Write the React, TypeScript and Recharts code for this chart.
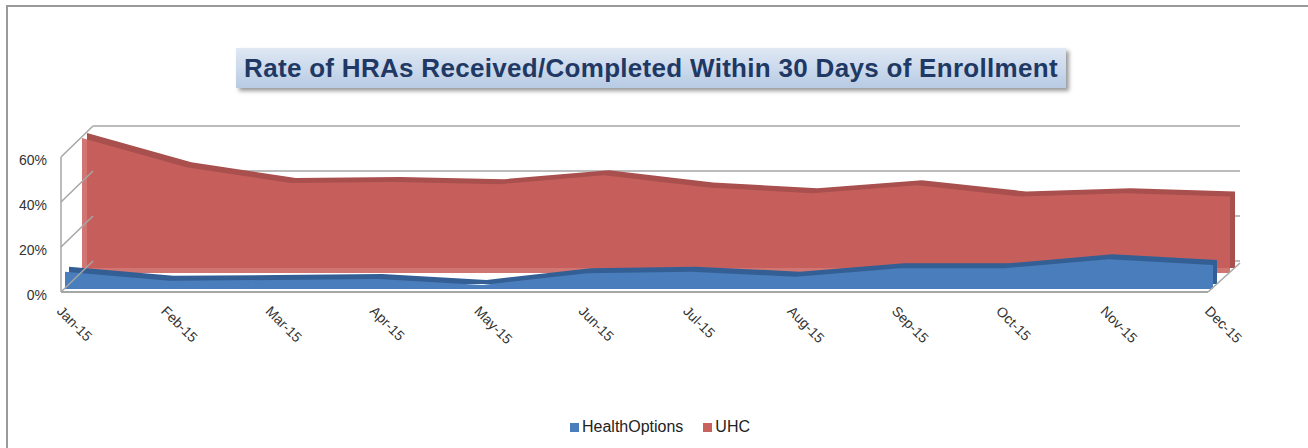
import { AreaChart, Area, XAxis, YAxis, ReferenceLine, Legend } from "recharts";

const months = ["Jan-15", "Feb-15", "Mar-15", "Apr-15", "May-15", "Jun-15", "Jul-15", "Aug-15", "Sep-15", "Oct-15", "Nov-15", "Dec-15"];
const healthOptions = [7.7, 3.7, 4, 4.4, 1.8, 7, 7.7, 5.5, 9.2, 9.2, 13.2, 10.7];
const uhc = [60, 47, 40, 40.5, 39.5, 43.5, 38, 35.5, 39, 34, 35.5, 34];
const yTicks = [0, 20, 40, 60];
const seriesNames = ["HealthOptions", "UHC"];
const title = "Rate of HRAs Received/Completed Within 30 Days of Enrollment";

const data = months.map((m, i) => ({ month: m, healthOptions: healthOptions[i], uhc: uhc[i] }));

// fake 3d: every depth layer is the same scale shifted up by some pixels
const PX_PER_PCT = 2.25;
const Y_MAX = 80;
const lift = (px: number): [number, number] => [-px / PX_PER_PCT, Y_MAX - px / PX_PER_PCT];

const PLOT_LEFT = 61;
const PLOT_BOTTOM = 292;

const font = "'Liberation Sans', Arial, sans-serif";

function FrontYTick({ y, payload }: any) {
  const x = PLOT_LEFT;
  return (
    <g>
      <line x1={x} y1={y} x2={x + 32} y2={y - 31} stroke="#a6a6a6" strokeWidth={1.5} />
      <text x={x - 14} y={y + 3} textAnchor="end" dominantBaseline="central" fontSize={14} fill="#333" fontFamily={font}>
        {payload.value}%
      </text>
    </g>
  );
}

function MonthTick({ x, payload, index }: any) {
  const y = PLOT_BOTTOM;
  const last = index === months.length - 1;
  return (
    <g>
      {last && <line x1={x - 5} y1={y} x2={x + 27} y2={y - 29} stroke="#a6a6a6" strokeWidth={1.5} />}
      <text
        x={x - 9}
        y={y + 20}
        transform={`rotate(45 ${x - 9} ${y + 20})`}
        fontSize={14}
        fill="#333"
        fontFamily={font}
      >
        {payload.value}
      </text>
    </g>
  );
}

export default function App() {
  return (
    <div style={{ position: "absolute", left: 0, top: 0, width: 1308, height: 448, background: "#fff", overflow: "hidden", fontFamily: font }}>
      <div style={{ position: "absolute", left: 6, top: 5, right: -10, bottom: -10, borderTop: "2px solid #9a9a9a", borderLeft: "2px solid #9a9a9a" }} />
      <div
        style={{
          position: "absolute",
          left: 236,
          top: 48,
          width: 830,
          height: 40,
          background: "linear-gradient(#dfe8f4, #b7cbe4)",
          boxShadow: "3px 3px 4px rgba(0,0,0,0.4)",
          color: "#1f3864",
          fontWeight: "bold",
          fontSize: 26,
          lineHeight: "40px",
          textAlign: "center",
          letterSpacing: 0.3,
          whiteSpace: "nowrap",
        }}
      >
        {title}
      </div>
      <AreaChart width={1308} height={448} data={data} margin={{ top: 112, right: 68, left: 0, bottom: 116 }}>
        <XAxis xAxisId="front" dataKey="month" scale="point" padding={{ left: 4, right: 27 }} height={40} axisLine={false} tickLine={false} tickSize={0} tickMargin={0} interval={0} tick={<MonthTick />} />
        <XAxis xAxisId="red" dataKey="month" scale="point" padding={{ left: 21, right: 10 }} hide />
        <XAxis xAxisId="redTop" dataKey="month" scale="point" padding={{ left: 26, right: 5 }} hide />
        <XAxis xAxisId="blueTop" dataKey="month" scale="point" padding={{ left: 8, right: 23 }} hide />
        <XAxis xAxisId="wall" dataKey="month" scale="point" padding={{ left: 0, right: 32 }} hide />
        <XAxis xAxisId="back" dataKey="month" scale="point" padding={{ left: 32, right: 0 }} hide />

        <YAxis yAxisId="front" type="number" domain={[0, Y_MAX]} ticks={yTicks} width={61} axisLine={false} tickLine={false} tickSize={0} tickMargin={0} tick={<FrontYTick />} allowDataOverflow />
        <YAxis yAxisId="red" type="number" domain={lift(19)} allowDataOverflow hide />
        <YAxis yAxisId="redTop" type="number" domain={lift(24)} allowDataOverflow hide />
        <YAxis yAxisId="blue" type="number" domain={lift(3)} allowDataOverflow hide />
        <YAxis yAxisId="blueTop" type="number" domain={lift(8)} allowDataOverflow hide />
        <YAxis yAxisId="back" type="number" domain={lift(31)} allowDataOverflow hide />

        {/* back wall gridlines, kept behind the areas */}
        {yTicks.map((t) => (
          <ReferenceLine
            key={t}
            xAxisId="back"
            yAxisId="back"
            segment={[{ x: months[0], y: t }, { x: months[months.length - 1], y: t }]}
            stroke="#a6a6a6"
            strokeWidth={1.5}
            ifOverflow="visible"
            zIndex={-100}
          />
        ))}

        <Area xAxisId="redTop" yAxisId="redTop" dataKey="uhc" type="linear" fill="#a94f4d" fillOpacity={1} stroke="none" legendType="none" isAnimationActive={false} />
        <Area xAxisId="red" yAxisId="red" dataKey="uhc" name={seriesNames[1]} type="linear" fill="#c9625f" fillOpacity={0.88} stroke="none" legendType="square" isAnimationActive={false} />
        <Area xAxisId="blueTop" yAxisId="blueTop" dataKey="healthOptions" type="linear" fill="#335f94" fillOpacity={1} stroke="none" legendType="none" isAnimationActive={false} />
        <Area xAxisId="front" yAxisId="blue" dataKey="healthOptions" name={seriesNames[0]} type="linear" fill="#4a7dbb" fillOpacity={1} stroke="none" legendType="square" isAnimationActive={false} />

        <ReferenceLine xAxisId="wall" yAxisId="front" segment={[{ x: months[0], y: 0 }, { x: months[0], y: 60 }]} stroke="#a6a6a6" strokeWidth={1.5} ifOverflow="visible" />
        <ReferenceLine xAxisId="wall" yAxisId="front" segment={[{ x: months[0], y: 0 }, { x: months[months.length - 1], y: 0 }]} stroke="#a6a6a6" strokeWidth={2} ifOverflow="visible" />

        <Legend
          verticalAlign="middle"
          align="center"
          iconSize={9}
          wrapperStyle={{ top: 418, left: 16, width: 1308 }}
          formatter={(v: string) => <span style={{ color: "#222", fontSize: 16, fontFamily: font, marginLeft: -1, marginRight: 10 }}>{v}</span>}
        />
      </AreaChart>
    </div>
  );
}
